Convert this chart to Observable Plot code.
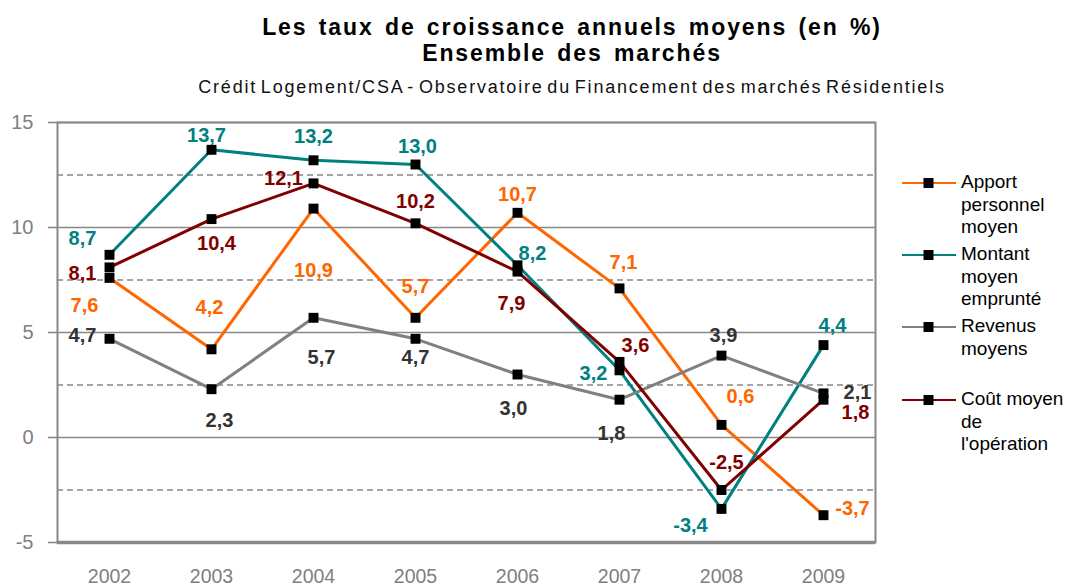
<!DOCTYPE html>
<html>
<head>
<meta charset="utf-8">
<script src="https://cdn.jsdelivr.net/npm/d3@7"></script>
<script src="https://cdn.jsdelivr.net/npm/@observablehq/plot@0.6"></script>
<style>
  html, body { margin: 0; padding: 0; background: #fff; }
  body { width: 1070px; height: 587px; position: relative; overflow: hidden; font-family: "Liberation Sans", Arial, sans-serif; }
  .t { position: absolute; left: 0; width: 1144px; text-align: center; white-space: nowrap; color: #000; }
  #t1 { top: 14px; font-size: 23px; font-weight: bold; letter-spacing: 1.9px; word-spacing: 3px; }
  #t2 { top: 40px; font-size: 23px; font-weight: bold; letter-spacing: 1.9px; word-spacing: 3px; }
  #t3 { top: 77px; font-size: 18px; letter-spacing: 1.8px; word-spacing: -3px; color: #111; }
  #chart { position: absolute; left: 0; top: 110px; }
  .leg { position: absolute; left: 902px; display: flex; align-items: flex-start; }
  .leg svg { flex: none; }
  .leg .lab { font-size: 19px; line-height: 22.5px; color: #000; margin-left: 5px; margin-top: -1px; }
</style>
</head>
<body>
<div class="t" id="t1">Les taux de croissance annuels moyens (en %)</div>
<div class="t" id="t2">Ensemble des marchés</div>
<div class="t" id="t3">Crédit Logement/CSA - Observatoire du Financement des marchés Résidentiels</div>
<div id="chart"></div>
<div id="legend"></div>
<script>
// ---- data ----
const years = ["2002", "2003", "2004", "2005", "2006", "2007", "2008", "2009"];
const apportPersonnel = [7.6, 4.2, 10.9, 5.7, 10.7, 7.1, 0.6, -3.7];
const montantEmprunte = [8.7, 13.7, 13.2, 13.0, 8.2, 3.2, -3.4, 4.4];
const revenusMoyens   = [4.7, 2.3, 5.7, 4.7, 3.0, 1.8, 3.9, 2.1];
const coutOperation   = [8.1, 10.4, 12.1, 10.2, 7.9, 3.6, -2.5, 1.8];
const seriesNames = ["Apport personnel moyen", "Montant moyen emprunté", "Revenus moyens", "Coût moyen de l'opération"];
const yTicks = [-5, 0, 5, 10, 15];
const solidGrid = [0, 5, 10, 15];
const dashedGrid = [-2.5, 2.5, 7.5, 12.5];

// ---- styling / label placement (pixel offsets of value labels) ----
const lineColors  = ["#FF6600", "#008080", "#808080", "#800000"];
const labelColors = ["#FF6600", "#008080", "#333333", "#800000"];
const labelOffsets = [
  [[-25, 28], [-2, -42], [0, 62], [0, -31], [0, -18], [4, -26], [19, -28], [29, -7]],
  [[-27, -16], [-5, -14], [0, -24], [2, -18], [15, -12], [-26, 3], [-31, 17], [9, -20]],
  [[-27, -3], [8, 31], [8, 40], [0, 19], [-4, 34], [-8, 34], [2, -20], [34, -1]],
  [[-27, 6], [5, 24], [-30, -5], [0, -22], [-6, 32], [16, -16], [5, -27], [32, 13]]
];

const seriesValues = [apportPersonnel, montantEmprunte, revenusMoyens, coutOperation];
const tables = seriesValues.map((vals, s) => years.map((yr, i) => ({year: yr, value: vals[i], series: seriesNames[s], idx: i})));
const fmt = v => v.toFixed(1).replace(".", ",");
const grid = "#888888";

const marks = [
  Plot.ruleY(solidGrid, {stroke: grid, strokeWidth: 1.5}),
  Plot.ruleY(dashedGrid, {stroke: grid, strokeWidth: 1.5, strokeDasharray: "6,4"}),
  Plot.frame({stroke: grid, strokeWidth: 2}),
  Plot.ruleY([-5], {stroke: grid, strokeWidth: 3.5}),
  Plot.axisY({ticks: yTicks, tickSize: 9, tickPadding: 15, fontSize: 20, color: "#808080", strokeWidth: 1.5, tickFormat: d => String(d), label: null}),
  Plot.axisX({tickSize: 0, tickPadding: 27, fontSize: 19.5, color: "#808080", label: null})
];
// lines
tables.forEach((t, s) => {
  marks.push(Plot.line(t, {x: "year", y: "value", stroke: lineColors[s], strokeWidth: 3}));
});
// markers
tables.forEach((t, s) => {
  marks.push(Plot.dot(t, {x: "year", y: "value", symbol: "square", r: 5.6, fill: "#000", stroke: "none"}));
});
// labels
tables.forEach((t, s) => {
  t.forEach((d, i) => {
    marks.push(Plot.text([d], {
      x: "year", y: "value", text: r => fmt(r.value),
      dx: labelOffsets[s][i][0], dy: labelOffsets[s][i][1],
      fill: labelColors[s], fontSize: 20, fontWeight: "bold"
    }));
  });
});

const chart = Plot.plot({
  width: 1070,
  height: 477,
  marginTop: 12,
  marginBottom: 45,
  marginLeft: 57,
  marginRight: 195,
  x: {type: "point", domain: years, padding: 0.5},
  y: {domain: [-5, 15]},
  style: {fontFamily: "'Liberation Sans', Arial, sans-serif", background: "transparent", overflow: "visible"},
  marks
});
document.getElementById("chart").appendChild(chart);

// ---- legend ----
const legendLines = [["Apport", "personnel", "moyen"], ["Montant", "moyen", "emprunté"], ["Revenus", "moyens"], ["Coût moyen", "de", "l'opération"]];
const legendTops = [172, 244, 316, 389];
const legend = document.getElementById("legend");
legendLines.forEach((lines, s) => {
  const item = document.createElement("div");
  item.className = "leg";
  item.style.top = legendTops[s] + "px";
  item.innerHTML = `<svg width="54" height="22"><line x1="0" x2="54" y1="11" y2="11" stroke="${lineColors[s]}" stroke-width="2"/><rect x="21.5" y="6" width="10" height="10" fill="#000"/></svg>` +
    `<div class="lab">${lines.join("<br>")}</div>`;
  legend.appendChild(item);
});
</script>
</body>
</html>
